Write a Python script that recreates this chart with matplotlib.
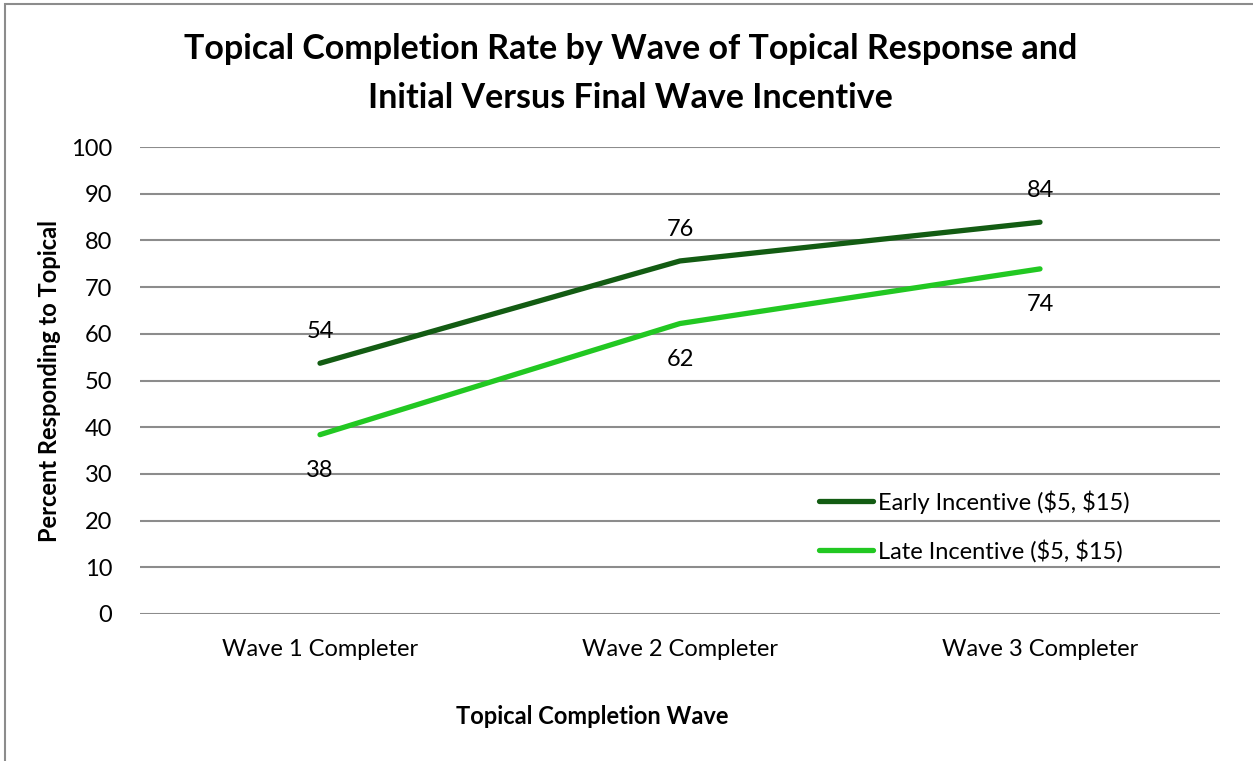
import matplotlib.pyplot as plt
from matplotlib.patches import Rectangle

plt.rcParams["font.family"] = ["Lato", "DejaVu Sans"]

waves = ["Wave 1 Completer", "Wave 2 Completer", "Wave 3 Completer"]
early = [53.7, 75.6, 83.9]
late = [38.4, 62.2, 73.9]
series_names = [r"Early Incentive (\$5, \$15)", r"Late Incentive (\$5, \$15)"]

dark_green = "#135c13"
light_green = "#22c822"
grid_gray = "#8c8c8c"

fig = plt.figure(figsize=(12.53, 7.61), dpi=100)
fig.patches.append(Rectangle((5 / 1253, -0.1), 1.2, (761 - 4) / 761 + 0.1,
                             transform=fig.transFigure, fill=False,
                             edgecolor="#8c8c8c", linewidth=1.5))

ax = fig.add_axes([140 / 1253, 147 / 761, 1080 / 1253, 467 / 761])
x = range(len(waves))

ax.plot(x, early, color=dark_green, lw=3.8, solid_capstyle="round",
        label=series_names[0], zorder=3)
ax.plot(x, late, color=light_green, lw=3.8, solid_capstyle="round",
        label=series_names[1], zorder=3)

for i, v in enumerate(early):
    ax.annotate(f"{v:.0f}", (i, v), xytext=(0, 23), textcoords="offset points",
                ha="center", va="center", fontsize=17)
for i, v in enumerate(late):
    ax.annotate(f"{v:.0f}", (i, v), xytext=(0, -26), textcoords="offset points",
                ha="center", va="center", fontsize=17)

ax.set_xlim(-0.5, 2.5)
ax.set_ylim(0, 100)
ax.set_yticks(range(0, 101, 10))
ax.set_xticks(list(x))
ax.set_xticklabels(waves)
ax.tick_params(axis="both", length=0, labelsize=17)
ax.tick_params(axis="y", pad=20)
ax.tick_params(axis="x", pad=18)
ax.yaxis.grid(True, color=grid_gray, lw=1.5)
ax.set_axisbelow(True)
for s in ax.spines.values():
    s.set_visible(False)

ax.set_ylabel("Percent Responding to Topical", fontsize=17, fontweight="bold",
              labelpad=7)
ax.set_xlabel("Topical Completion Wave", fontsize=17, fontweight="bold",
              va="center")
ax.xaxis.set_label_coords(0.419, -0.219)
fig.suptitle("Topical Completion Rate by Wave of Topical Response and\n"
             "Initial Versus Final Wave Incentive",
             x=0.503, y=0.957, fontsize=24.5, fontweight="bold", linespacing=1.68)

ax.legend(loc="lower left", bbox_to_anchor=(0.609, 0.065), frameon=False,
          fontsize=17, handlelength=2.3, handletextpad=0.2, labelspacing=1.1)

fig.savefig("out.png", dpi=100)
